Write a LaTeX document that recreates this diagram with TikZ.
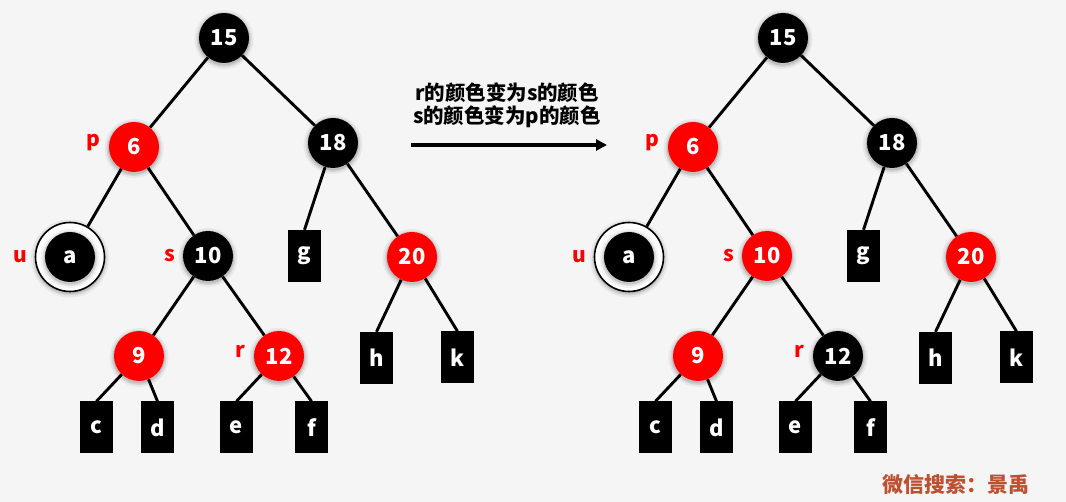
\documentclass[tikz,border=0pt]{standalone}
\usepackage{fontspec}
\setmainfont{Noto Sans CJK SC}
\usetikzlibrary{arrows.meta}
\definecolor{bgc}{RGB}{245,245,245}
\definecolor{rnode}{RGB}{255,0,0}
\definecolor{wm}{RGB}{190,80,50}
\tikzset{
 shad/.style={
   preaction={draw=black,draw opacity=0.05,line width=9pt,transform canvas={yshift=-1.5pt}},
   preaction={draw=black,draw opacity=0.08,line width=5pt,transform canvas={yshift=-1.5pt}},
   preaction={draw=black,draw opacity=0.10,line width=2pt,transform canvas={yshift=-1.5pt}}},
 nd/.style={circle,minimum size=50pt,inner sep=0pt,text=white,font=\bfseries\fontsize{22}{22}\selectfont,shad},
 bn/.style={nd,fill=black},
 rn/.style={nd,fill=rnode},
 leaf/.style={rectangle,fill=black,minimum width=33pt,minimum height=52pt,inner sep=0pt,text=white,
   font=\bfseries\fontsize{22}{22}\selectfont},
 ring/.style={circle,minimum size=69pt,inner sep=0pt,draw=black,line width=1.6pt,fill=white,shad},
 lab/.style={text=rnode,font=\bfseries\fontsize{21}{21}\selectfont,inner sep=0pt},
 edge/.style={line width=2.9pt,draw=black},
 caption/.style={font=\bfseries\fontsize{20.5}{20.5}\selectfont,inner sep=0pt},
}
\newcommand{\rbtree}[4]{%
\begin{scope}[xshift=#1pt]
 \node[bn] (#2-15) at (224,38) {15};
 \node[rn] (#2-6) at (134,147) {6};
 \node[bn] (#2-18) at (333,143) {18};
 \node[ring] (#2-u) at (70,257) {};
 \node[bn] (#2-a) at (70,257) {a};
 \node[#3] (#2-10) at (208,256) {10};
 \node[leaf] (#2-g) at (304.5,256) {g};
 \node[rn] (#2-20) at (412,257) {20};
 \node[rn] (#2-9) at (139,356) {9};
 \node[#4] (#2-12) at (279,356) {12};
 \node[leaf] (#2-h) at (376.5,358) {h};
 \node[leaf] (#2-k) at (457.5,357.5) {k};
 \node[leaf] (#2-c) at (96.5,427.5) {c};
 \node[leaf] (#2-d) at (157.5,427.5) {d};
 \node[leaf] (#2-e) at (236.5,427.5) {e};
 \node[leaf] (#2-f) at (311.5,427.5) {f};
 \node[lab] (#2-lp) at (93,143) {p};
 \node[lab] (#2-lu) at (20,257) {u};
 \node[lab] (#2-ls) at (170,256) {s};
 \node[lab] (#2-lr) at (240,351) {r};
 \draw[edge] (#2-15) -- (#2-6);
 \draw[edge] (#2-15) -- (#2-18);
 \draw[edge] (#2-6) -- (#2-u);
 \draw[edge] (#2-6) -- (#2-10);
 \draw[edge] (#2-18) -- (#2-g.north);
 \draw[edge] (#2-18) -- (#2-20);
 \draw[edge] (#2-10) -- (#2-9);
 \draw[edge] (#2-10) -- (#2-12);
 \draw[edge] (#2-9) -- (#2-c.north);
 \draw[edge] (#2-9) -- (#2-d.north);
 \draw[edge] (#2-12) -- (#2-e.north);
 \draw[edge] (#2-12) -- (#2-f.north);
 \draw[edge] (#2-20) -- (#2-h.north);
 \draw[edge] (#2-20) -- (#2-k.north);
\end{scope}}
\begin{document}
\begin{tikzpicture}[x=1pt,y=-1pt]
 \fill[bgc] (0,0) rectangle (1066,502);
 \useasboundingbox (0,0) rectangle (1066,502);
 \rbtree{0}{L}{bn}{rn}
 \rbtree{559}{R}{rn}{bn}
 \node[caption] (t1) at (507,93) {r的颜色变为s的颜色};
 \node[caption] (t2) at (507,117) {s的颜色变为p的颜色};
 \coordinate (as) at (411,145);
 \coordinate (ae) at (607,145);
 \draw[line width=3.2pt,-{Triangle[length=11pt,width=11pt]}] (as) -- (ae);
 \node[text=wm,font=\bfseries\fontsize{21}{21}\selectfont,inner sep=0pt] (wm) at (956,485) {微信搜索：景禹};
\end{tikzpicture}
\end{document}
